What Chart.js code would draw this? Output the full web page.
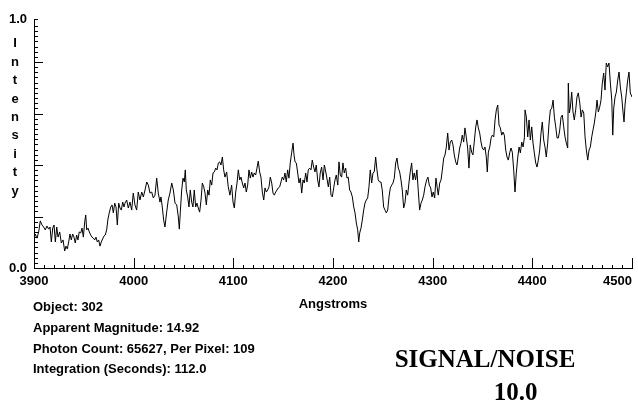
<!DOCTYPE html>
<html><head><meta charset="utf-8">
<script src="https://cdn.jsdelivr.net/npm/chart.js@4/dist/chart.umd.min.js"></script>
<style>
html,body{margin:0;padding:0;background:#fff;}
#wrap{position:relative;width:638px;height:402px;overflow:hidden;background:#fff;}
#c{position:absolute;left:0;top:0;}
.t{position:absolute;font-family:'Liberation Sans',Arial,sans-serif;font-weight:bold;font-size:13px;color:#000;white-space:pre;}
#ylab{left:5px;top:34.3px;width:20px;text-align:center;line-height:18.4px;}
#info{left:33px;top:297.1px;line-height:20.7px;}
.sn{position:absolute;font-family:'Liberation Serif','Times New Roman',serif;font-weight:bold;font-size:25px;line-height:25px;color:#000;white-space:pre;text-align:center;}
</style></head><body>
<div id="wrap"><canvas id="c" width="638" height="402"></canvas>
<div id="ylab" class="t"></div>
<div id="info" class="t"></div>
<div id="sn1" class="sn" style="left:385px;top:346px;width:200px;"></div>
<div id="sn2" class="sn" style="left:465.5px;top:379px;width:100px;"></div>
</div>
<script>
const WAVELENGTHS = [
3900.0,3901.3,3903.0,3904.7,3906.3,3908.0,3909.7,3911.3,3913.0,3914.7,
3916.1,3917.4,3918.8,3920.1,3921.4,3922.8,3924.1,3925.8,3927.4,3929.1,
3930.8,3932.1,3933.4,3934.8,3936.1,3937.4,3938.8,3940.1,3941.4,3942.8,
3944.1,3945.4,3946.9,3948.2,3949.5,3950.9,3951.9,3952.9,3954.2,3955.5,
3956.9,3958.2,3959.5,3960.9,3962.2,3963.5,3964.9,3966.2,3967.5,3968.9,
3970.2,3971.5,3972.9,3974.2,3975.5,3977.0,3978.3,3979.6,3981.0,3982.3,
3983.6,3985.0,3986.3,3987.6,3989.0,3990.3,
3991.3,3993.0,3994.6,3996.3,3998.0,3999.6,4001.3,4003.0,4004.6,4006.3,
4008.1,4009.7,4011.4,4013.1,4014.7,4016.4,4018.1,4019.7,4021.4,4023.1,
4024.7,4026.4,4027.4,4028.7,4030.1,4031.4,4033.1,4034.7,4036.4,4038.2,
4039.8,4041.5,4043.2,4044.8,4045.8,4046.8,4048.2,4049.5,4050.8,4051.8,
4052.8,4054.2,4055.5,4056.8,4058.2,4059.5,4060.8,4062.2,4063.5,4064.8,
4066.2,4067.6,4068.9,4070.3,4071.6,4072.9,4074.3,4075.6,4076.9,4078.3,
4079.6,4080.9,4082.3,4083.6,4085.0,4086.3,4087.6,4089.0,4090.3,
4091.6,4093.3,4094.9,4096.6,4098.3,4099.7,4101.0,4102.4,4103.7,4105.0,
4106.4,4107.7,4109.0,4110.4,4111.7,4113.0,4114.4,4115.7,4117.0,4118.4,
4119.7,4121.0,4122.4,4123.7,4125.0,4126.4,4127.7,4129.1,4130.5,4131.8,
4133.1,4134.5,4135.8,4137.1,4138.5,4139.8,4141.1,4142.5,4143.8,4145.1,
4146.5,4147.8,4149.1,4150.5,4151.8,4153.1,4154.5,4155.8,4157.1,4158.5,
4159.9,4160.9,4161.9,4163.2,4164.6,4165.9,4167.2,4168.6,4169.9,4171.2,
4172.6,4173.9,4175.2,4176.6,4177.9,4179.2,4180.6,4181.9,4183.2,4184.6,
4185.9,4187.2,4188.6,4190.0,4191.3,
4192.0,4193.7,4195.3,4196.7,4198.0,4199.3,4200.7,4202.0,4203.3,4204.8,
4206.0,4207.3,4208.7,4210.0,4211.3,4212.7,4214.0,4215.3,4216.7,4218.0,
4219.4,4220.8,4222.1,4223.4,4224.8,4225.8,4226.8,4228.1,4229.4,4230.8,
4232.1,4233.4,4234.8,4236.1,4237.4,4238.8,4240.1,4241.4,4242.8,4244.1,
4245.4,4246.8,4248.1,4249.4,4250.8,4252.2,4253.5,4254.9,4256.2,4257.5,
4258.9,4260.2,4261.5,4262.9,4264.2,4265.5,4266.9,4268.2,4269.5,4270.9,
4272.2,4273.5,4274.9,4276.2,4277.5,4278.9,4280.2,4281.5,4282.9,4284.2,
4285.5,4286.9,4288.3,4289.6,4291.0,
4292.3,4294.0,4295.3,4296.6,4298.0,4299.3,4300.6,4302.0,4303.3,4304.6,
4305.6,4307.1,4308.4,4309.7,4311.1,4312.4,4313.7,4315.1,4316.4,4317.7,
4319.1,4320.4,4321.7,4323.1,4324.4,4325.7,4327.1,4328.4,4329.7,4331.1,
4332.4,4333.7,4335.1,4336.4,4337.7,4339.1,4340.4,4341.7,4343.2,4344.5,
4345.8,4347.2,4348.5,4349.8,4351.2,4352.5,4353.8,4354.8,4355.9,4357.3,
4358.6,4359.9,4361.3,4362.6,4363.9,4365.3,4366.6,4367.9,4369.3,4370.6,
4371.9,4373.3,4374.6,4375.9,4377.3,4378.6,4379.9,4381.3,4382.6,4383.9,
4385.3,4386.7,4388.0,4389.4,4390.7,4392.0,
4392.7,4394.0,4395.4,4396.7,4398.0,4399.4,4400.7,4402.0,4403.4,4404.7,
4406.0,4407.4,4408.7,4410.0,4411.4,4412.7,4414.0,4415.4,4416.8,4418.1,
4419.5,4420.8,4422.1,4423.5,4424.8,4426.1,4427.5,4428.8,4430.1,4431.5,
4432.8,4434.1,4435.5,4436.1,4437.1,4438.1,4439.5,4440.8,4442.1,4443.5,
4444.8,4446.1,4447.6,4448.9,4450.2,4451.6,4452.9,4454.2,4455.6,4456.9,
4458.2,4459.6,4460.9,4462.2,4463.6,4464.9,4466.2,4467.6,4468.9,4470.2,
4471.6,4472.9,4474.2,4475.6,4476.9,4478.3,4479.7,4480.7,4481.7,4483.0,
4484.3,4485.7,4487.0,4488.3,4489.7,4491.0,4492.0,4493.0,4494.3,4495.7,
4497.0,4498.3,4500.0
];
const INTENSITY = [
0.113,0.132,0.116,0.140,0.183,0.167,0.159,0.148,0.163,0.151,
0.159,0.101,0.155,0.167,0.101,0.159,0.120,0.140,0.097,0.109,
0.066,0.085,0.074,0.101,0.132,0.109,0.132,0.120,0.097,0.128,
0.109,0.140,0.136,0.155,0.120,0.179,0.206,0.148,0.155,0.140,
0.128,0.120,0.116,0.109,0.120,0.101,0.109,0.085,0.101,0.113,
0.124,0.128,0.148,0.190,0.214,0.237,0.245,0.214,0.252,0.237,
0.167,0.252,0.233,0.225,0.256,0.237,
0.252,0.264,0.233,0.256,0.225,0.291,0.245,0.225,0.295,0.264,
0.295,0.276,0.303,0.334,0.322,0.291,0.295,0.272,0.283,0.349,
0.291,0.256,0.276,0.237,0.186,0.159,0.217,0.264,0.291,0.330,
0.303,0.252,0.245,0.198,0.151,0.217,0.303,0.349,0.334,0.381,
0.303,0.276,0.237,0.303,0.256,0.237,0.303,0.237,0.252,0.233,
0.217,0.264,0.330,0.315,0.291,0.245,0.303,0.283,0.342,0.322,
0.369,0.373,0.388,0.381,0.408,0.412,0.400,0.431,0.381,
0.353,0.373,0.315,0.283,0.322,0.256,0.233,0.295,0.330,0.381,
0.342,0.353,0.330,0.311,0.330,0.295,0.322,0.381,0.349,0.373,
0.353,0.369,0.361,0.388,0.415,0.373,0.353,0.295,0.264,0.311,
0.295,0.303,0.315,0.353,0.330,0.291,0.283,0.295,0.303,0.311,
0.315,0.334,0.353,0.342,0.369,0.334,0.381,0.349,0.408,0.447,
0.485,0.439,0.412,0.408,0.369,0.330,0.349,0.291,0.342,0.330,
0.369,0.334,0.381,0.388,0.381,0.419,0.392,0.373,0.400,0.342,
0.315,0.369,0.392,0.342,0.400,
0.388,0.353,0.315,0.353,0.283,0.276,0.311,0.342,0.361,0.322,
0.412,0.361,0.353,0.408,0.369,0.388,0.349,0.353,0.303,0.295,
0.276,0.237,0.214,0.175,0.148,0.101,0.136,0.155,0.186,0.225,
0.252,0.264,0.272,0.315,0.381,0.330,0.369,0.373,0.431,0.381,
0.342,0.334,0.334,0.303,0.237,0.225,0.214,0.225,0.276,0.311,
0.322,0.330,0.349,0.408,0.427,0.388,0.373,0.342,0.303,0.233,
0.252,0.303,0.283,0.330,0.373,0.408,0.342,0.369,0.342,0.381,
0.303,0.225,0.252,0.264,0.283,
0.315,0.342,0.353,0.322,0.311,0.276,0.295,0.272,0.349,0.311,
0.283,0.330,0.342,0.381,0.427,0.439,0.470,0.524,0.458,0.489,
0.497,0.478,0.439,0.412,0.400,0.427,0.466,0.485,0.516,0.489,
0.544,0.509,0.466,0.388,0.478,0.450,0.439,0.489,0.548,0.575,
0.544,0.524,0.489,0.466,0.458,0.470,0.431,0.373,0.450,0.470,
0.505,0.516,0.509,0.575,0.614,0.633,0.555,0.544,0.516,0.528,
0.516,0.458,0.431,0.419,0.447,0.466,0.450,0.381,0.295,0.369,
0.427,0.470,0.447,0.489,0.470,0.505,
0.614,0.586,0.509,0.575,0.497,0.548,0.485,0.447,0.408,0.392,
0.419,0.458,0.524,0.567,0.497,0.470,0.431,0.485,0.563,0.614,
0.621,0.652,0.586,0.548,0.505,0.505,0.536,0.586,0.594,0.548,
0.509,0.485,0.466,0.718,0.602,0.621,0.683,0.606,0.575,0.614,
0.664,0.680,0.641,0.586,0.614,0.602,0.509,0.458,0.419,0.458,
0.470,0.509,0.536,0.563,0.602,0.652,0.606,0.625,0.652,0.718,
0.757,0.691,0.796,0.781,0.796,0.718,0.652,0.516,0.621,0.664,
0.683,0.730,0.761,0.703,0.664,0.606,0.567,0.633,0.680,0.730,
0.761,0.680,0.664
];
const X_TICK_LABELS = ['3900','4000','4100','4200','4300','4400','4500'];
const Y_TICK_LABELS = ['0.0','1.0'];
const X_MIN = 3900, X_MAX = 4500, X_MINOR = 10, X_MAJOR = 100;
const Y_MIN = 0, Y_MAX = 0.967, Y_MINOR = 0.02, Y_MAJOR = 0.2;
const X_TITLE = 'Angstroms';
const Y_TITLE = 'Intensity';
const INFO_LINES = ['Object: 302','Apparent Magnitude: 14.92','Photon Count: 65627, Per Pixel: 109','Integration (Seconds): 112.0'];
const SN_TITLE = 'SIGNAL/NOISE';
const SN_VALUE = '10.0';

document.getElementById('ylab').textContent = Y_TITLE.split('').join('\n');
document.getElementById('info').textContent = INFO_LINES.join('\n');
document.getElementById('sn1').textContent = SN_TITLE;
document.getElementById('sn2').textContent = SN_VALUE;

const FONT = {family:"'Liberation Sans', Arial, sans-serif", size:13, weight:'bold'};

const tickMarks = {
  id: 'tickMarks',
  afterDraw(chart) {
    const {ctx, chartArea: a, scales: {x, y}} = chart;
    ctx.save();
    ctx.strokeStyle = '#000';
    ctx.lineWidth = 1;
    ctx.beginPath();
    x.ticks.forEach(t => {
      if (t.value > X_MAX + 1e-9) return;
      const px = Math.round(x.getPixelForValue(t.value)) + 0.5;
      const k = (t.value - X_MIN) / X_MAJOR;
      const len = Math.abs(k - Math.round(k)) < 1e-6 ? 10 : 3;
      ctx.moveTo(px, a.bottom);
      ctx.lineTo(px, a.bottom - len);
    });
    y.ticks.forEach(t => {
      const py = Math.round(y.getPixelForValue(t.value)) + 0.5;
      const k = t.value / Y_MAJOR;
      const len = (Math.abs(k - Math.round(k)) < 1e-6) ? 9 : 4;
      ctx.moveTo(a.left, py);
      ctx.lineTo(a.left + len, py);
    });
    ctx.stroke();
    ctx.restore();
  }
};

new Chart(document.getElementById('c'), {
  type: 'line',
  data: {
    datasets: [{
      data: WAVELENGTHS.map((w, i) => ({x: w, y: INTENSITY[i]})),
      borderColor: '#000',
      borderWidth: 1,
      pointRadius: 0,
      tension: 0,
      fill: false
    }]
  },
  options: {
    responsive: false,
    maintainAspectRatio: false,
    animation: false,
    devicePixelRatio: 1,
    layout: {padding: {left: 0, right: 6, top: 19, bottom: 89.7}},
    plugins: {legend: {display: false}, tooltip: {enabled: false}},
    scales: {
      x: {
        type: 'linear', min: X_MIN, max: X_MAX,
        afterFit(s) { s.height = 44.3; s.paddingLeft = 0; s.paddingRight = 0; },
        grid: {display: false, drawTicks: false},
        border: {display: true, color: '#000', width: 1},
        ticks: {
          stepSize: X_MINOR, autoSkip: false, maxRotation: 0, minRotation: 0, padding: 6,
          color: '#000', font: FONT,
          callback: (v) => {
            const k = (v - X_MIN) / X_MAJOR;
            if (Math.abs(k - Math.round(k)) > 1e-6) return '';
            const i = Math.round(k);
            if (!X_TICK_LABELS[i]) return '';
            return i === X_TICK_LABELS.length - 1 ? X_TICK_LABELS[i] + '\u00a0'.repeat(8) : X_TICK_LABELS[i];
          }
        },
        title: {display: true, text: X_TITLE, color: '#000', font: FONT, padding: 0}
      },
      y: {
        type: 'linear', min: Y_MIN, max: Y_MAX,
        afterFit(s) { s.width = 34; s.paddingTop = 0; s.paddingBottom = 0; },
        grid: {display: false, drawTicks: false},
        border: {display: true, color: '#000', width: 1},
        ticks: {
          stepSize: Y_MINOR, autoSkip: false, padding: 7, color: '#000', font: FONT,
          callback: (v) => {
            if (Math.abs(v - Y_MIN) < 1e-9) return Y_TICK_LABELS[0];
            if (Math.abs(v - Y_MAX) < 1e-9) return Y_TICK_LABELS[1];
            return '';
          }
        }
      }
    }
  },
  plugins: [tickMarks]
});
</script>
</body></html>
